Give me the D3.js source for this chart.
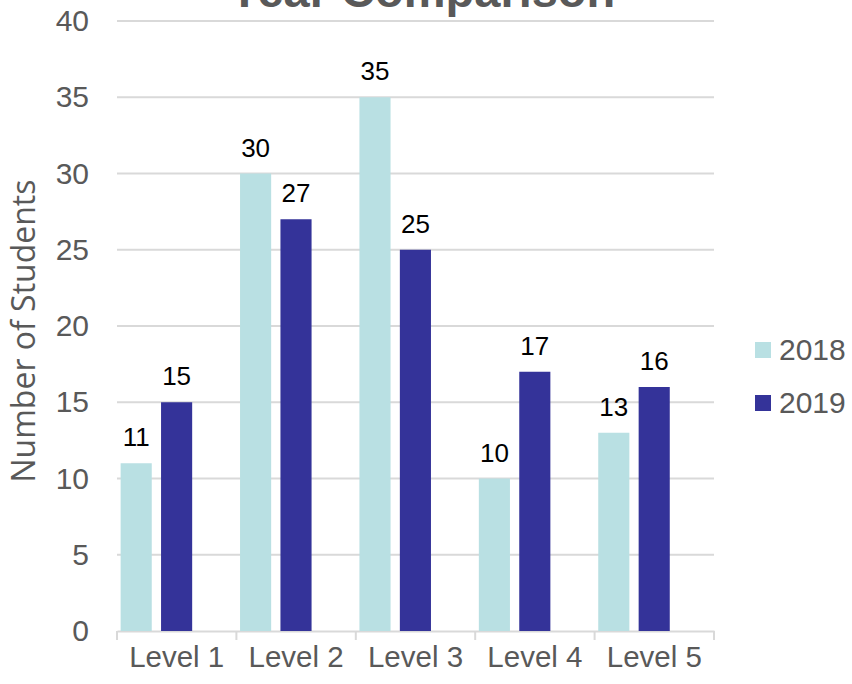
<!DOCTYPE html>
<html>
<head>
<meta charset="utf-8">
<script src="https://cdn.jsdelivr.net/npm/d3@7"></script>
<style>
  body { margin: 0; background: #fff; }
  svg { display: block; font-family: "Liberation Sans", Arial, sans-serif; }
</style>
</head>
<body>
<svg id="chart"></svg>
<script>
// data
const levels = ['Level 1', 'Level 2', 'Level 3', 'Level 4', 'Level 5'];
const seriesNames = ['2018', '2019'];
const values2018 = [11, 30, 35, 10, 13];
const values2019 = [15, 27, 25, 17, 16];
const yTicks = [0, 5, 10, 15, 20, 25, 30, 35, 40];

const colors = {'2018': '#b9e0e3', '2019': '#343399'};
const grey = '#595959';

const width = 852, height = 684;
const plot = {left: 117, right: 714, top: 21, bottom: 631};

const svg = d3.select('#chart')
  .attr('width', width)
  .attr('height', height);

const rows = levels.map((lvl, i) => ({
  level: lvl,
  values: [
    {series: '2018', value: values2018[i]},
    {series: '2019', value: values2019[i]}
  ]
}));

const x0 = d3.scaleBand()
  .domain(levels)
  .range([plot.left, plot.right])
  .padding(0);

// bars sit in the left part of each category
const x1 = d3.scaleBand()
  .domain(seriesNames)
  .range([0, x0.bandwidth() * 0.66])
  .paddingInner(0.23)
  .paddingOuter(0.09);

const y = d3.scaleLinear()
  .domain([0, 40])
  .range([plot.bottom, plot.top]);

// title, mostly cut off at the top (as in the source)
svg.append('text')
  .attr('x', 422)
  .attr('y', 7)
  .attr('text-anchor', 'middle')
  .style('font-size', '47px')
  .style('font-weight', 'bold')
  .style('fill', grey)
  .text('Year Comparison');

// gridlines
svg.append('g')
  .selectAll('line')
  .data(yTicks.filter(d => d > 0))
  .join('line')
  .attr('x1', plot.left)
  .attr('x2', plot.right)
  .attr('y1', d => y(d))
  .attr('y2', d => y(d))
  .attr('stroke', '#d9d9d9')
  .attr('stroke-width', 2);

// y axis labels
const yAxis = svg.append('g')
  .attr('transform', `translate(${plot.left - 28}, 0)`)
  .call(d3.axisLeft(y).tickValues(yTicks).tickSize(0).tickPadding(0));
yAxis.select('.domain').remove();
yAxis.selectAll('text')
  .style('font-size', '30px')
  .style('font-family', '"Liberation Sans", Arial, sans-serif')
  .style('fill', grey);

// x axis
const xAxis = svg.append('g')
  .attr('transform', `translate(0, ${plot.bottom})`)
  .call(d3.axisBottom(x0).tickSize(0).tickPadding(36));
xAxis.select('.domain')
  .attr('stroke', '#d9d9d9')
  .attr('stroke-width', 2);
xAxis.selectAll('text')
  .style('font-size', '29.5px')
  .style('font-family', '"Liberation Sans", Arial, sans-serif')
  .style('fill', grey)
  .attr('dy', '0');

// category boundary ticks
const bounds = levels.map(l => x0(l)).concat([plot.right]);
xAxis.selectAll('.bound')
  .data(bounds)
  .join('line')
  .attr('class', 'bound')
  .attr('x1', d => d)
  .attr('x2', d => d)
  .attr('y1', 0)
  .attr('y2', 9)
  .attr('stroke', '#d9d9d9')
  .attr('stroke-width', 2);

// bars
const groups = svg.append('g')
  .selectAll('g')
  .data(rows)
  .join('g')
  .attr('transform', d => `translate(${x0(d.level)}, 0)`);

groups.selectAll('rect')
  .data(d => d.values)
  .join('rect')
  .attr('x', d => x1(d.series))
  .attr('y', d => y(d.value))
  .attr('width', x1.bandwidth())
  .attr('height', d => y(0) - y(d.value))
  .attr('fill', d => colors[d.series]);

groups.selectAll('.val')
  .data(d => d.values)
  .join('text')
  .attr('class', 'val')
  .attr('x', d => x1(d.series) + x1.bandwidth() / 2)
  .attr('y', d => y(d.value) - 17)
  .attr('text-anchor', 'middle')
  .style('font-size', '26px')
  .style('fill', '#000')
  .text(d => d.value);

// y axis title
svg.append('text')
  .attr('transform', 'translate(35, 331) rotate(-90)')
  .attr('text-anchor', 'middle')
  .style('font-family', '"Open Sans", sans-serif')
  .style('font-size', '32px')
  .style('fill', grey)
  .text('Number of Students');

// legend
const legend = svg.append('g')
  .selectAll('g')
  .data(seriesNames)
  .join('g')
  .attr('transform', (d, i) => `translate(755, ${350 + i * 53})`);

legend.append('rect')
  .attr('x', 0)
  .attr('y', -8)
  .attr('width', 16)
  .attr('height', 16)
  .attr('fill', d => colors[d]);

legend.append('text')
  .attr('x', 24)
  .attr('y', 10)
  .style('font-size', '30px')
  .style('fill', grey)
  .text(d => d);
</script>
</body>
</html>
